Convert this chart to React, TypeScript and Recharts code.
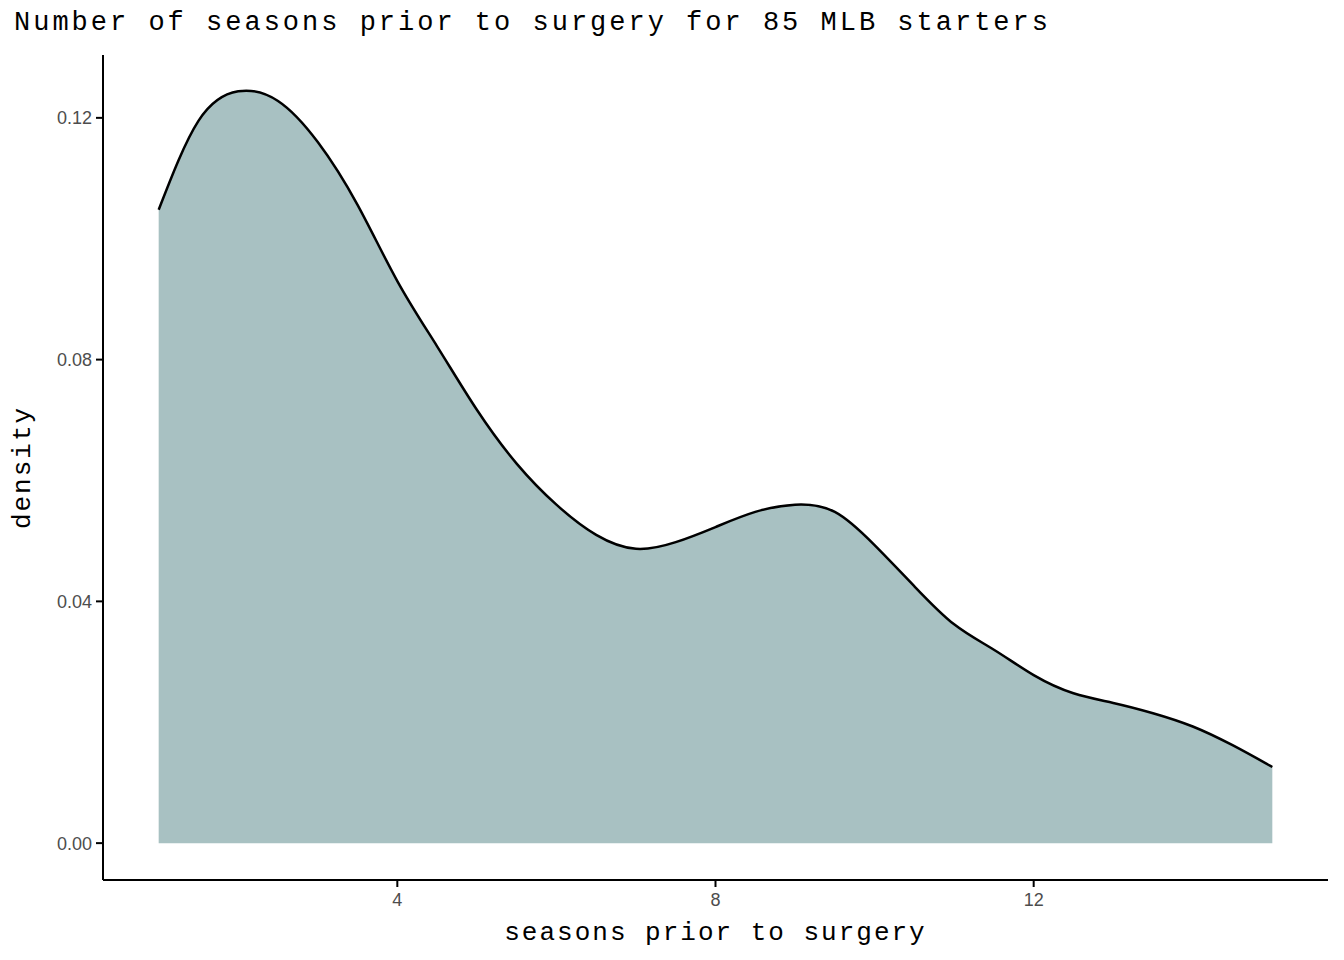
import React from "react";
import { ComposedChart, Area, XAxis, YAxis, Label } from "recharts";

const seasons = [1, 1.5, 2, 2.5, 3, 3.5, 4, 4.5, 5, 5.5, 6, 6.5, 7, 7.5, 8, 8.5, 9, 9.5, 10, 10.5, 11, 11.5, 12, 12.5, 13, 13.5, 14, 14.5, 15];
const density = [0.1048, 0.1195, 0.1244, 0.1228, 0.116, 0.1056, 0.093, 0.0822, 0.0717, 0.0628, 0.056, 0.051, 0.0487, 0.0498, 0.0523, 0.0548, 0.056, 0.0548, 0.0493, 0.0425, 0.0362, 0.032, 0.0278, 0.0248, 0.0232, 0.0215, 0.0193, 0.0162, 0.0126];
const xTicks = [4, 8, 12];
const yTicks = [0, 0.04, 0.08, 0.12];

const data = seasons.map((s, i) => ({ s, d: density[i] }));
const mono = "'Liberation Mono', 'DejaVu Sans Mono', monospace";
const sans = "'Liberation Sans', Arial, sans-serif";
const tickStyle = { fill: "#4d4d4d", fontSize: 18, fontFamily: sans };

export default function App() {
  return (
    <div style={{ position: "absolute", left: 0, top: 0, width: 1344, height: 960, background: "#fff" }}>
      <div style={{ position: "absolute", left: 14, top: 8, fontFamily: mono, fontSize: 27, letterSpacing: 3, color: "#000", whiteSpace: "nowrap" }}>
        Number of seasons prior to surgery for 85 MLB starters
      </div>
      <ComposedChart width={1344} height={960} data={data} margin={{ top: 55, right: 16, bottom: 30, left: 43 }} style={{ fontSize: 18 }}>
        <XAxis dataKey="s" type="number" domain={[0.3, 15.7]} ticks={xTicks} allowDataOverflow
          stroke="#000" strokeWidth={2} tickSize={7} tickMargin={6} height={50} fontSize={18}
          tick={tickStyle} tickLine={{ stroke: "#000", strokeWidth: 2 }}>
          <Label value="seasons prior to surgery" position="insideBottom" offset={-10}
            style={{ fontFamily: mono, fontSize: 26, letterSpacing: 2, fill: "#000" }} />
        </XAxis>
        <YAxis type="number" domain={[-0.0061, 0.1304]} ticks={yTicks} allowDataOverflow
          tickFormatter={(v: number) => v.toFixed(2)} fontSize={18}
          stroke="#000" strokeWidth={2} tickSize={7} tickMargin={4} width={60}
          tick={tickStyle} tickLine={{ stroke: "#000", strokeWidth: 2 }}>
          <Label value="density" angle={-90} position="insideLeft" offset={-22}
            style={{ fontFamily: mono, fontSize: 26, letterSpacing: 2, fill: "#000", textAnchor: "middle" }} />
        </YAxis>
        <Area dataKey="d" type="natural" baseValue={0} fill="#a8c1c2" fillOpacity={1} stroke="none" isAnimationActive={false} />
        <Area dataKey="d" type="natural" baseValue={0} fill="none" stroke="#000" strokeWidth={2.5} isAnimationActive={false} />
      </ComposedChart>
    </div>
  );
}
